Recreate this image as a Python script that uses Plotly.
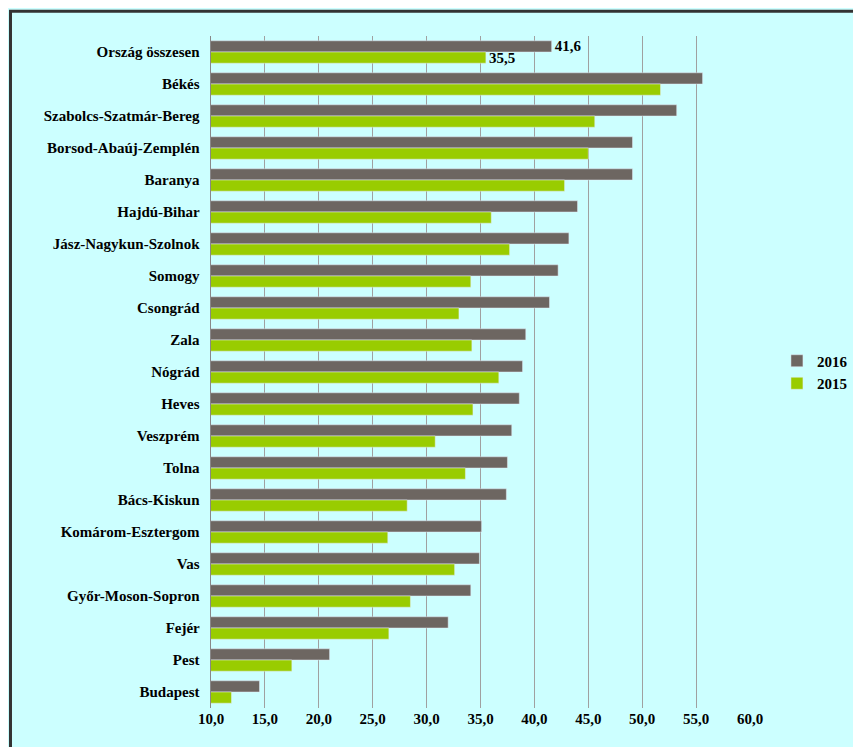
import plotly.graph_objects as go

counties = ["Ország összesen", "Békés", "Szabolcs-Szatmár-Bereg", "Borsod-Abaúj-Zemplén",
            "Baranya", "Hajdú-Bihar", "Jász-Nagykun-Szolnok", "Somogy", "Csongrád", "Zala",
            "Nógrád", "Heves", "Veszprém", "Tolna", "Bács-Kiskun", "Komárom-Esztergom",
            "Vas", "Győr-Moson-Sopron", "Fejér", "Pest", "Budapest"]
v2016 = [41.6, 55.6, 53.2, 49.1, 49.1, 44.0, 43.2, 42.2, 41.4, 39.2, 38.9, 38.6, 37.9,
         37.5, 37.4, 35.1, 34.9, 34.1, 32.0, 21.0, 14.5]
v2015 = [35.5, 51.7, 45.6, 45.0, 42.8, 36.0, 37.7, 34.1, 33.0, 34.2, 36.7, 34.3, 30.8,
         33.6, 28.2, 26.4, 32.6, 28.5, 26.5, 17.5, 11.9]
x_ticks = [10, 15, 20, 25, 30, 35, 40, 45, 50, 55, 60]

font = dict(family="Liberation Serif", size=15, color="black", weight="bold")
lbl16 = ["41,6"] + [""] * (len(counties) - 1)
lbl15 = ["35,5"] + [""] * (len(counties) - 1)

fig = go.Figure()
fig.add_bar(y=counties, x=v2016, orientation="h", name="2016",
            marker_color="#6d6661", text=lbl16, textposition="outside",
            constraintext="none", textfont=font, cliponaxis=False)
fig.add_bar(y=counties, x=v2015, orientation="h", name="2015",
            marker_color="#99cc00", text=lbl15, textposition="outside",
            constraintext="none", textfont=font, cliponaxis=False)

fig.update_layout(
    width=861, height=747,
    barmode="group", bargap=0.3, bargroupgap=0,
    paper_bgcolor="#ccffff", plot_bgcolor="#ccffff",
    margin=dict(l=203, r=119, t=28, b=47),
    font=font,
    legend=dict(x=1.05, y=0.5, yanchor="middle", traceorder="normal",
                bgcolor="rgba(0,0,0,0)", font=font),
    xaxis=dict(range=[10, 60], tickvals=x_ticks,
               ticktext=[f"{v:.1f}".replace(".", ",") for v in x_ticks],
               showgrid=True, gridcolor="#a0a0a0", zeroline=False,
               showline=False, tickfont=font),
    yaxis=dict(autorange="reversed", showgrid=False, showline=True, linecolor="#888888",
               ticks="", tickfont=font, ticksuffix="  "),
    shapes=[dict(type="rect", xref="paper", yref="paper", x0=-0.372, x1=1.215,
                 y0=-0.0655, y1=1.037, line=dict(color="#333333", width=3))],
)

fig.write_html("out.html")
